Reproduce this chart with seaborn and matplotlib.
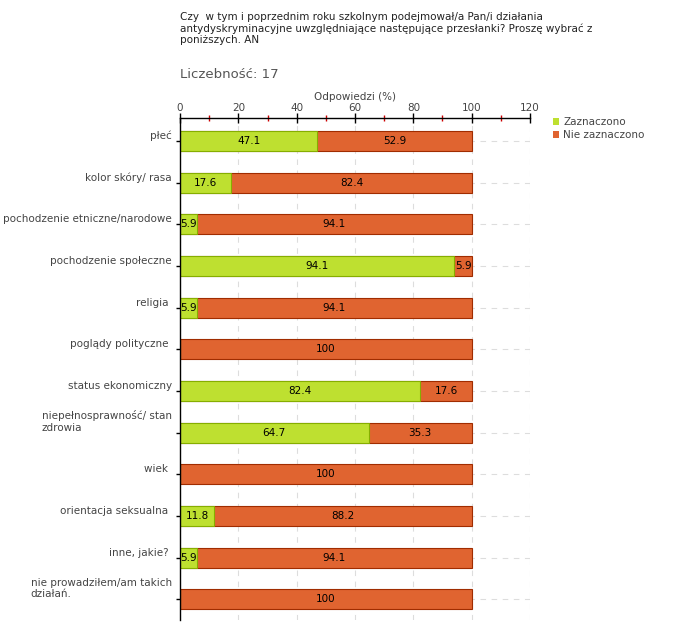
import matplotlib
matplotlib.use("Agg")
import matplotlib.pyplot as plt
import seaborn as sns
import pandas as pd
from matplotlib.patches import Patch
from matplotlib.ticker import MultipleLocator

categories = [
    "płeć",
    "kolor skóry/ rasa",
    "pochodzenie etniczne/narodowe",
    "pochodzenie społeczne",
    "religia ",
    "poglądy polityczne ",
    "status ekonomiczny",
    "niepełnosprawność/ stan\nzdrowia",
    "wiek ",
    "orientacja seksualna ",
    "inne, jakie? ",
    "nie prowadziłem/am takich\ndziałań.",
]
zaznaczono = [47.1, 17.6, 5.9, 94.1, 5.9, 0, 82.4, 64.7, 0, 11.8, 5.9, 0]
nie_zaznaczono = [52.9, 82.4, 94.1, 5.9, 94.1, 100, 17.6, 35.3, 100, 88.2, 94.1, 100]

title = ("Czy  w tym i poprzednim roku szkolnym podejmował/a Pan/i działania\n"
         "antydyskryminacyjne uwzględniające następujące przesłanki? Proszę wybrać z\n"
         "poniższych. AN")

green, green_edge = "#BEE030", "#86AE00"
orange, orange_edge = "#E06430", "#A02C00"
txt = "#444444"

df = pd.DataFrame({"kat": categories, "zazn": zaznaczono, "nie": nie_zaznaczono})
df["total"] = df["zazn"] + df["nie"]

sns.set_style("white")
plt.rcParams["font.family"] = ["DejaVu Sans"]

fig = plt.figure(figsize=(6.8, 6.4), dpi=100)
ax = fig.add_axes([180 / 680, 1 - 620 / 640, 350 / 680, 502 / 640])

# stacked: full bar in orange, green share drawn on top
sns.barplot(data=df, x="total", y="kat", orient="h", color=orange, saturation=1,
            edgecolor=orange_edge, linewidth=0.8, width=0.48, ax=ax)
sns.barplot(data=df, x="zazn", y="kat", orient="h", color=green, saturation=1,
            edgecolor=green_edge, linewidth=0.8, width=0.48, ax=ax)

# value labels
for i, (z, n) in enumerate(zip(zaznaczono, nie_zaznaczono)):
    if z > 0:
        ax.text(z / 2, i, f"{z:g}", ha="center", va="center", fontsize=7.5, color="black")
    if n > 0:
        ax.text(z + n / 2, i, f"{n:g}", ha="center", va="center", fontsize=7.5, color="black")

ax.set_xlim(0, 120)
ax.set_ylim(len(categories) - 0.5, -0.55)
ax.xaxis.tick_top()
ax.xaxis.set_label_position("top")
ax.xaxis.set_major_locator(MultipleLocator(20))
ax.xaxis.set_minor_locator(MultipleLocator(10))
ax.tick_params(axis="x", which="major", direction="inout", length=7, width=1,
               color="black", labelsize=7.5, labelcolor=txt, pad=0)
ax.tick_params(axis="x", which="minor", direction="inout", length=5, width=1,
               color="#CC0000")
ax.tick_params(axis="y", direction="out", length=3, width=1, color="black",
               labelsize=7.5, labelcolor=txt, pad=3, left=True)
ax.set_xlabel("Odpowiedzi (%)", fontsize=7.5, color=txt, labelpad=2)
ax.set_ylabel("")

for lab in ax.get_yticklabels():
    lab.set_verticalalignment("bottom")
    lab.set_multialignment("left")

ax.grid(True, axis="both", which="major", linestyle=(0, (5, 5)), color="#DDDDDD", linewidth=0.8)
ax.set_axisbelow(True)
for s in ["right", "bottom"]:
    ax.spines[s].set_visible(False)
for s in ["left", "top"]:
    ax.spines[s].set_color("black")
    ax.spines[s].set_linewidth(1)

fig.text(180 / 680, 1 - 12 / 640, title, ha="left", va="top", fontsize=7.5,
         color="#222222", linespacing=1.15)
fig.text(180 / 680, 1 - 75 / 640, "Liczebność: 17", ha="left", va="center",
         fontsize=9.5, color="#555555")

handles = [Patch(facecolor=green, edgecolor="none", label="Zaznaczono"),
           Patch(facecolor=orange, edgecolor="none", label="Nie zaznaczono")]
fig.legend(handles=handles, loc="upper left", bbox_to_anchor=(553 / 680, 1 - 117 / 640),
           frameon=False, fontsize=7.5, handlelength=0.6, handleheight=0.6,
           handletextpad=0.4, labelspacing=0.3, borderaxespad=0, borderpad=0,
           labelcolor=txt)

fig.savefig("out.png", dpi=100)
